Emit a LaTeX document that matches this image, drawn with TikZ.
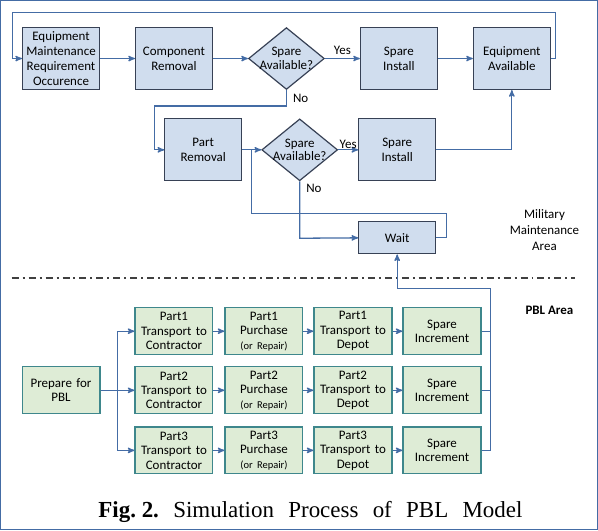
\documentclass[tikz,border=0pt]{standalone}
\usepackage{fontspec}
\setmainfont{Carlito}
\newfontfamily\capfont{Liberation Serif}
\usepackage{tikz}
\usetikzlibrary{arrows,positioning,calc,shapes.geometric}
\definecolor{boxblue}{RGB}{208,221,238}
\definecolor{boxline}{RGB}{55,65,85}
\definecolor{arrowblue}{RGB}{68,108,165}
\definecolor{boxgreen}{RGB}{222,236,214}
\definecolor{greenline}{RGB}{62,135,140}
\begin{document}
\begin{tikzpicture}[->, >=stealth', auto, semithick, node distance=35pt, x=1pt, y=-1pt,
  every path/.style={draw=arrowblue, line width=1.3pt}]
\tikzstyle{every node}=[font=\fontsize{13}{15}\selectfont, text=black]
\tikzstyle{mbox}=[rectangle, fill=boxblue, draw=boxline, line width=1.2pt, minimum width=77pt, minimum height=62pt, text width=73pt, align=center, inner sep=1pt]
\tikzstyle{decision}=[diamond, fill=boxblue, draw=boxline, line width=1.2pt, minimum width=76pt, minimum height=62pt, inner sep=0pt]
\tikzstyle{pbox}=[rectangle, fill=boxgreen, draw=greenline, line width=1.2pt, minimum width=78pt, minimum height=47pt, text width=76pt, align=center, inner sep=0.5pt, font=\fontsize{13}{14.5}\selectfont]
\useasboundingbox (0,0) rectangle (598,530);
% military maintenance area
\node[mbox]     (EMRO) at (60.5,58)   {Equipment\\Maintenance\\Requirement\\Occurence};
\node[mbox]     (CR)[right=of EMRO]   {Component\\Removal};
\node[decision] (D1)[right=of CR, label={[align=center, font=\fontsize{13}{14}\selectfont]center:Spare\\Available?}] {};
\node[mbox]     (SI1)[right=of D1]    {Spare\\Install};
\node[mbox]     (EA)[right=of SI1]    {Equipment\\Available};
\node[mbox]     (PR) at (203,149.5)   {Part\\Removal};
\node[decision] (D2)[right=19pt of PR, label={[align=center, font=\fontsize{13}{14}\selectfont]center:Spare\\Available?}] {};
\node[mbox]     (SI2)[right=20pt of D2] {Spare\\Install};
\node[mbox, minimum height=32pt] (W)[below=40pt of SI2] {Wait};
\coordinate (jn) at ($(PR.east)!0.5!(D2.west)$);
\path
(EMRO) edge (CR)
(CR)   edge (D1)
(D1)   edge[above] node{Yes} (SI1)
(SI1)  edge (EA)
(PR)   edge (D2)
(D2)   edge[above] node[inner sep=1pt]{Yes} (SI2);
\draw (EA.east) -| (556,12) -- (12,12) |- (EMRO.west);
\draw (D1.south) -- node[right, pos=0.5, inner sep=6pt]{No} ++(0,16) -| ($(PR.west)+(-10,0)$) -- (PR.west);
\draw (SI2.east) -| (EA.south);
\draw (D2.south) -- node[right, pos=0.12, inner sep=6pt]{No} ++(0,57) -- (W.west);
\draw[-] (W.east) -- ++(10,0) |- ($(jn)+(0,64)$) -- (jn);
\node[align=center, font=\fontsize{13}{16}\selectfont] (MMA) at (545,230) {Military\\Maintenance\\Area};
% border of the two areas
\draw[-, draw=black!75, line width=1.6pt, dash pattern=on 7pt off 4pt on 2pt off 4pt] (11,278) -- (576,278);
\node[font=\bfseries\fontsize{13}{15}\selectfont] (PBLA) at (550,310) {PBL Area};
% pbl area
\node[pbox] (Prep) at (60.5,390.5) {Prepare for\\PBL};
\node[pbox] (T2)[right=34pt of Prep] {Part2\\Transport to\\Contractor};
\node[pbox] (T1)[above=11pt of T2]   {Part1\\Transport to\\Contractor};
\node[pbox] (T3)[below=12pt of T2]   {Part3\\Transport to\\Contractor};
\foreach \i in {1,2,3}{
  \node[pbox] (P\i)[right=11pt of T\i] {Part\i\\Purchase\\{\fontsize{10.5}{12}\selectfont (or Repair)}};
  \node[pbox] (D\i D)[right=10pt of P\i] {Part\i\\Transport to\\Depot};
  \node[pbox] (S\i)[right=10pt of D\i D] {Spare\\Increment};
  \path (T\i) edge (P\i)
        (P\i) edge (D\i D)
        (D\i D) edge (S\i);
}
\coordinate (split) at ($(Prep.east)+(17,0)$);
\draw[-] (Prep.east) -- (split);
\draw (split) |- (T1.west);
\draw (split) |- (T3.west);
\draw (split) -- (T2.west);
\draw[-] (S1.east) -- ++(9,0);
\draw[-] (S2.east) -- ++(9,0);
\draw (S3.east) -- ++(9,0) |- ($(W.south)+(0,34)$) -- (W.south);
% caption
\node[font=\capfont\fontsize{23}{26}\selectfont] (cap) at (310.5,512) {\hbox to 425pt{\textbf{Fig.\ 2.}\hfill Simulation\hfill Process\hfill of\hfill PBL\hfill Model}};
\end{tikzpicture}
\end{document}
